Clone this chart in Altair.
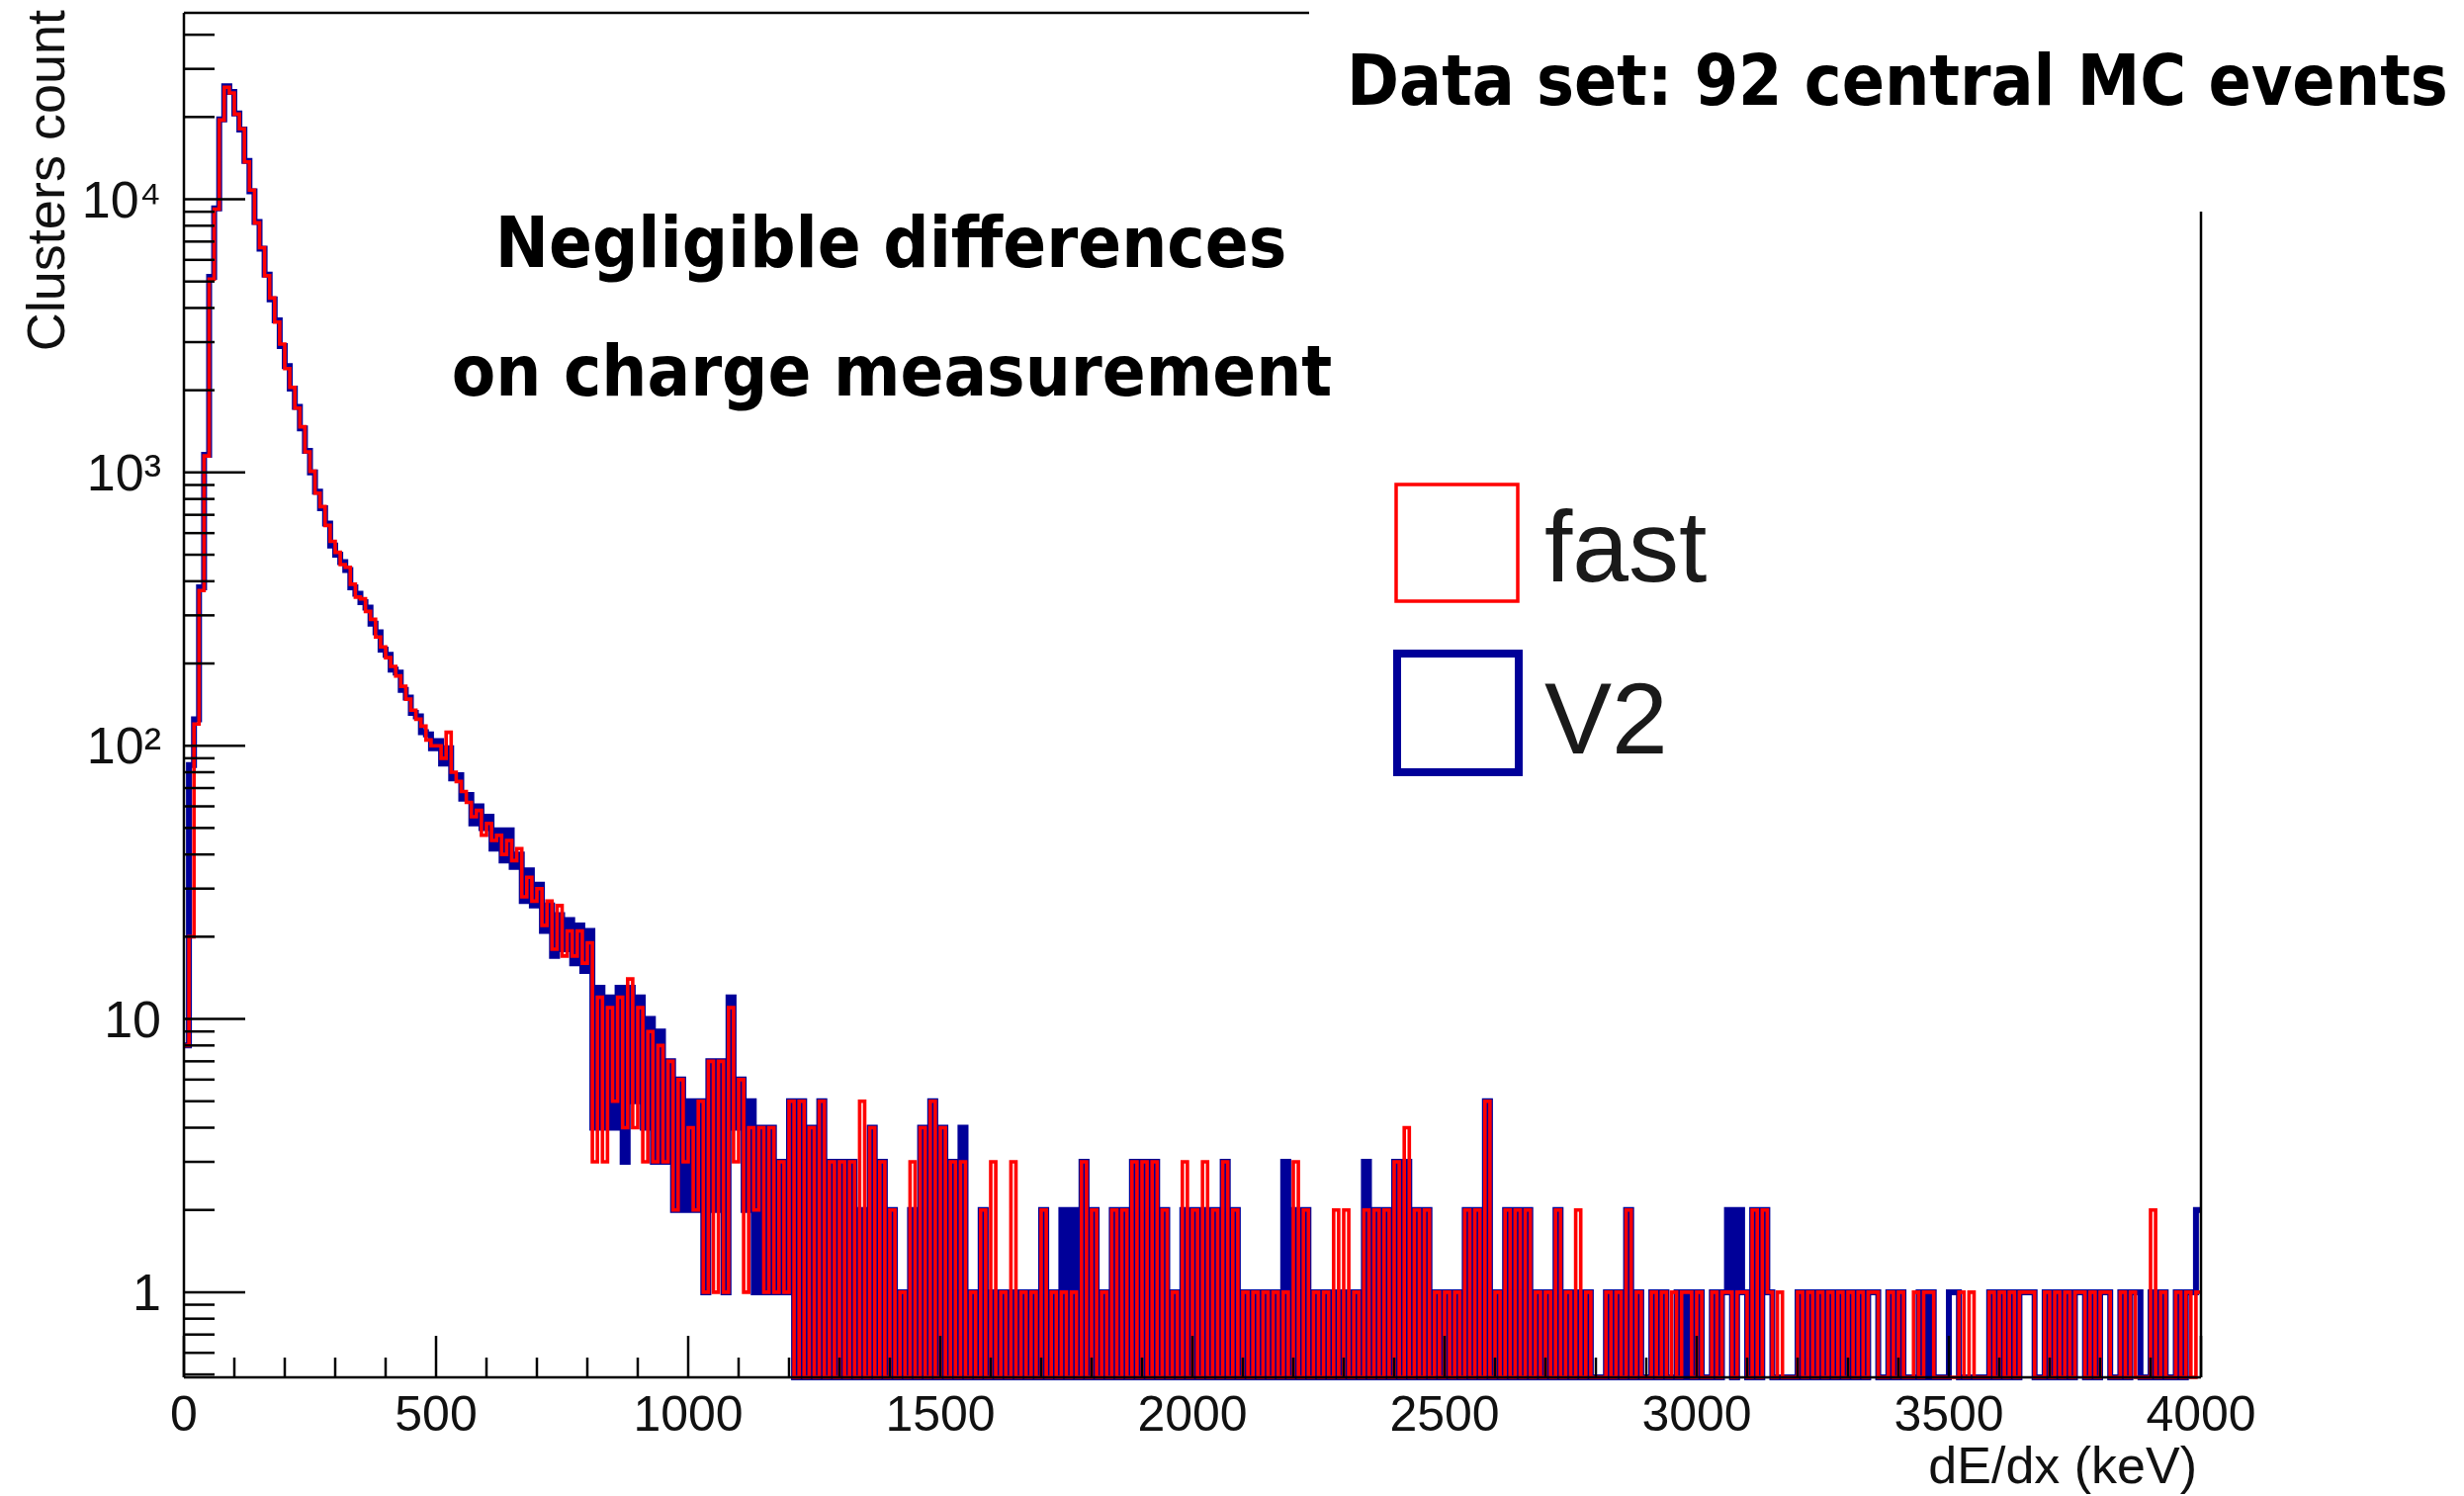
import altair as alt
import pandas as pd

# ---------------------------------------------------------------------------
# Plot geometry (pixels) and axis ranges
# ---------------------------------------------------------------------------
W, H = 2040, 1380
Y_MIN, Y_MAX = 0.488, 48100
X_MIN, X_MAX = 0, 4000
BIN_WIDTH = 10  # keV per bin

# ---------------------------------------------------------------------------
# Cluster counts per 10 keV bin (0 - 4000 keV), "V2" reconstruction
# ---------------------------------------------------------------------------
V2_PEAK = [8, 85, 125, 380, 1160, 5200, 9250, 19600, 25900, 24700,
           20600, 18000, 13800, 10700, 8250, 6600, 5300, 4300, 3600, 2900,
           2450, 2030, 1740, 1450, 1200, 1000, 850, 740, 650, 540,
           500, 470, 440, 380, 360, 335, 320, 280, 260, 225]
V2_BODY = [215, 190, 185, 160, 150, 132, 128, 112, 110, 98,
           104, 86, 98, 76, 78, 64, 66, 52, 60, 50,
           55, 42, 49, 38, 49, 36, 40, 27, 35, 26,
           31, 21, 26, 17, 24, 18, 23, 16, 22, 15,
           21, 4, 13, 4, 12, 4, 13, 3, 13, 5,
           12, 4, 10, 3, 9, 3, 7, 2, 6, 2,
           5, 2, 5, 1, 7, 2, 7, 1, 12, 4,
           6, 2, 5, 1, 4, 1, 4, 1, 3, 1]
V2_TAIL_1 = [5, 0, 5, 0, 4, 0, 5, 0, 3, 0,
             3, 0, 3, 0, 2, 0, 4, 0, 3, 0,
             2, 0, 1, 0, 2, 0, 4, 0, 5, 0,
             4, 0, 3, 0, 4, 0, 1, 0, 2, 0,
             1, 0, 1, 0, 1, 0, 1, 0, 1, 0,
             2, 0, 1, 0, 2, 0, 2, 0, 3, 0,
             2, 0, 1, 0, 2, 0, 2, 0, 3, 0,
             3, 0, 3, 0, 2, 0, 1, 0, 2, 0]
V2_TAIL_2 = [2, 0, 2, 0, 2, 0, 3, 0, 2, 0,
             1, 0, 1, 0, 1, 0, 1, 0, 3, 0,
             2, 0, 2, 0, 1, 0, 1, 0, 1, 0,
             1, 0, 1, 0, 3, 0, 2, 0, 2, 0,
             3, 0, 3, 0, 2, 0, 2, 0, 1, 0,
             1, 0, 1, 0, 2, 0, 2, 0, 5, 0,
             1, 0, 2, 0, 2, 0, 2, 0, 1, 0,
             1, 0, 2, 0, 1, 0, 1, 0, 1, 0]
V2_TAIL_3 = [0, 0, 1, 0, 1, 0, 2, 0, 1, 0,
             0, 1, 0, 1, 0, 0, 1, 0, 1, 0,
             1, 0, 0, 1, 0, 1, 2, 0, 2, 1,
             0, 2, 0, 2, 1, 0, 0, 0, 0, 0,
             1, 0, 1, 0, 1, 0, 1, 0, 1, 0,
             1, 0, 1, 0, 1, 1, 0, 0, 1, 0,
             1, 0, 0, 0, 1, 0, 1, 0, 0, 0,
             1, 1, 0, 0, 0, 0, 0, 0, 1, 0,
             1, 0, 1, 0, 1, 1, 1, 0, 0, 1,
             0, 1, 0, 1, 0, 1, 1, 0, 1, 0,
             1, 1, 0, 0, 1, 0, 1, 1, 0, 0,
             1, 0, 1, 0, 0, 1, 0, 1, 1, 2]

# ---------------------------------------------------------------------------
# Cluster counts per 10 keV bin, "fast" reconstruction
# ---------------------------------------------------------------------------
FAST_PEAK = [8, 20, 120, 370, 1150, 5100, 9200, 19500, 25700, 24500,
             20500, 18100, 13700, 10800, 8200, 6650, 5250, 4350, 3550, 2950,
             2400, 2050, 1720, 1470, 1190, 1010, 840, 750, 640, 560,
             510, 460, 450, 390, 350, 345, 310, 290, 250, 230]
FAST_BODY = [210, 195, 180, 165, 148, 135, 125, 118, 105, 100,
             100, 90, 112, 80, 74, 68, 62, 55, 58, 47,
             52, 45, 47, 40, 45, 38, 42, 28, 33, 27,
             30, 22, 27, 18, 26, 17, 21, 17, 21, 16,
             19, 3, 12, 3, 11, 5, 12, 4, 14, 4,
             11, 3, 9, 3, 8, 3, 7, 2, 6, 3,
             4, 2, 5, 1, 7, 1, 7, 1, 11, 3,
             6, 1, 4, 2, 4, 1, 4, 1, 3, 1]
FAST_TAIL_1 = [5, 0, 5, 0, 4, 0, 5, 0, 3, 0,
               3, 0, 3, 0, 5, 0, 4, 0, 3, 0,
               2, 0, 1, 0, 3, 0, 4, 0, 5, 0,
               4, 0, 3, 0, 3, 0, 1, 0, 2, 0,
               3, 0, 1, 0, 3, 0, 1, 0, 1, 0,
               2, 0, 1, 0, 1, 0, 1, 0, 3, 0,
               2, 0, 1, 0, 2, 0, 2, 0, 3, 0,
               3, 0, 3, 0, 2, 0, 1, 0, 3, 0]
FAST_TAIL_2 = [2, 0, 3, 0, 2, 0, 3, 0, 2, 0,
               1, 0, 1, 0, 1, 0, 1, 0, 1, 0,
               3, 0, 2, 0, 1, 0, 1, 0, 2, 0,
               2, 0, 1, 0, 2, 0, 2, 0, 2, 0,
               3, 0, 4, 0, 2, 0, 2, 0, 1, 0,
               1, 0, 1, 0, 2, 0, 2, 0, 5, 0,
               1, 0, 2, 0, 2, 0, 2, 0, 1, 0,
               1, 0, 2, 0, 1, 0, 2, 0, 1, 0]
FAST_TAIL_3 = [0, 0, 1, 0, 1, 0, 2, 0, 1, 0,
               0, 1, 0, 1, 0, 1, 0, 1, 1, 0,
               1, 0, 0, 1, 0, 1, 1, 0, 1, 1,
               0, 2, 0, 2, 1, 0, 1, 0, 0, 0,
               1, 0, 1, 0, 1, 0, 1, 0, 1, 0,
               1, 0, 1, 0, 1, 1, 0, 0, 1, 0,
               1, 0, 0, 1, 0, 1, 1, 0, 0, 0,
               0, 0, 1, 0, 1, 0, 0, 0, 1, 0,
               1, 0, 1, 0, 1, 1, 1, 0, 0, 1,
               0, 1, 0, 1, 0, 1, 1, 0, 1, 0,
               1, 1, 0, 0, 1, 0, 1, 0, 0, 0,
               2, 0, 1, 0, 0, 1, 0, 1, 0, 1]

# Axis tick values and labels
X_MAJOR = [0, 500, 1000, 1500, 2000, 2500, 3000, 3500, 4000]
X_MINOR = [v for v in range(100, 4000, 100) if v % 500]
Y_MAJOR = [1, 10, 100, 1000, 10000]
Y_LABELS = ["1", "10", "10\u00b2", "10\u00b3", "10\u2074"]
Y_MINOR = [0.5, 0.6, 0.7, 0.8, 0.9,
           2, 3, 4, 5, 6, 7, 8, 9,
           20, 30, 40, 50, 60, 70, 80, 90,
           200, 300, 400, 500, 600, 700, 800, 900,
           2000, 3000, 4000, 5000, 6000, 7000, 8000, 9000,
           20000, 30000, 40000]

# Text content
SERIES = ["fast", "V2"]
COLORS = {"fast": "#ff0000", "V2": "#000099"}
X_TITLE = "dE/dx (keV)"
Y_TITLE = "Clusters count"
HEADLINE = "Data set: 92 central MC events"
NOTE_LINES = ["Negligible differences", "on charge measurement"]

# ---------------------------------------------------------------------------
# Build the histogram outline table
# ---------------------------------------------------------------------------
v2_counts = V2_PEAK + V2_BODY + V2_TAIL_1 + V2_TAIL_2 + V2_TAIL_3
fast_counts = FAST_PEAK + FAST_BODY + FAST_TAIL_1 + FAST_TAIL_2 + FAST_TAIL_3

rows = []
for name, counts in (("V2", v2_counts), ("fast", fast_counts)):
    for i, c in enumerate(counts):
        rows.append({"series": name, "edge": i * BIN_WIDTH, "count": c})
    # closing edge of the last bin
    rows.append({"series": name, "edge": len(counts) * BIN_WIDTH, "count": counts[-1]})
hist = pd.DataFrame(rows)

x_scale = alt.Scale(domain=[X_MIN, X_MAX], nice=False, zero=False)
y_scale = alt.Scale(type="log", domain=[Y_MIN, Y_MAX], nice=False, clamp=True)

LABEL_FONT = "Liberation Sans"
BOLD_FONT = "DejaVu Sans Condensed, DejaVu Sans, sans-serif"
INK = "#111111"

base = alt.Chart(hist).transform_calculate(shown=f"max(datum.count, {Y_MIN})")


def outline(series, color, width):
    return base.transform_filter(f"datum.series == '{series}'").mark_line(
        interpolate="step-after", color=color, strokeWidth=width
    ).encode(
        x=alt.X("edge:Q", scale=x_scale, axis=None),
        y=alt.Y("shown:Q", scale=y_scale, axis=None),
    )


v2_line = outline("V2", COLORS["V2"], 6)
fast_line = outline("fast", COLORS["fast"], 3.6)


# Inward-pointing ticks drawn on top of the histograms
def x_ticks(values, length):
    return alt.Chart(pd.DataFrame({"v": values})).mark_rule(color="#000000", strokeWidth=2.5).encode(
        x=alt.X("v:Q", scale=x_scale, axis=None),
        y=alt.value(H), y2=alt.value(H - length),
    )


def y_ticks(values, length):
    return alt.Chart(pd.DataFrame({"v": values})).mark_rule(color="#000000", strokeWidth=2.5).encode(
        y=alt.Y("v:Q", scale=y_scale, axis=None),
        x=alt.value(0), x2=alt.value(length),
    )


x_labels = alt.Chart(pd.DataFrame({"v": X_MAJOR, "t": [str(v) for v in X_MAJOR]})).mark_text(
    align="center", baseline="alphabetic", fontSize=50, font=LABEL_FONT, color=INK
).encode(x=alt.X("v:Q", scale=x_scale, axis=None), y=alt.value(H + 54), text="t:N")

y_labels = alt.Chart(pd.DataFrame({"v": Y_MAJOR, "t": Y_LABELS})).mark_text(
    align="right", baseline="alphabetic", dy=18, fontSize=52, font=LABEL_FONT, color=INK
).encode(y=alt.Y("v:Q", scale=y_scale, axis=None), x=alt.value(-23), text="t:N")

one = pd.DataFrame({"k": [0]})


def frame_rule(x, x2, y, y2):
    return alt.Chart(one).mark_rule(color="#000000", strokeWidth=2.5).encode(
        x=alt.value(x), x2=alt.value(x2), y=alt.value(y), y2=alt.value(y2))


frame = [
    frame_rule(0, 0, 0, H),          # left
    frame_rule(0, W, H, H),          # bottom
    frame_rule(0, 1138, 0, 0),       # top (stops at the headline box)
    frame_rule(W, W, 201, H),        # right (starts below the headline box)
]


def label(text, x, y, size, align="left", bold=False, angle=0, font=LABEL_FONT, color=INK):
    mark_kwargs = dict(align=align, baseline="alphabetic", fontSize=size, font=font, color=color)
    if bold:
        mark_kwargs["fontWeight"] = "bold"
    if angle:
        mark_kwargs["angle"] = angle
    return alt.Chart(pd.DataFrame({"t": [text]})).mark_text(**mark_kwargs).encode(
        text="t:N", x=alt.value(x), y=alt.value(y))


texts = [
    label(HEADLINE, 1176, 93, 71, bold=True, font=BOLD_FONT, color="#000000"),
    label(NOTE_LINES[0], 715, 257, 72, align="center", bold=True, font=BOLD_FONT, color="#000000"),
    label(NOTE_LINES[1], 716, 387, 72, align="center", bold=True, font=BOLD_FONT, color="#000000"),
    label(X_TITLE, 2036, 1487, 52, align="right"),
    label(Y_TITLE, -121, -3, 54, align="right", angle=270),
]


# Legend: outlined boxes with labels
def legend_box(x, x2, y, y2, color, width):
    return alt.Chart(one).mark_rect(fill=None, filled=False, stroke=color, strokeWidth=width).encode(
        x=alt.value(x), x2=alt.value(x2), y=alt.value(y), y2=alt.value(y2))


legend = [
    legend_box(1226, 1349, 477, 595, COLORS["fast"], 3.5),
    legend_box(1227, 1350, 648, 768, COLORS["V2"], 8),
    label(SERIES[0], 1376, 575, 102, color="#1a1a1a"),
    label(SERIES[1], 1376, 749, 102, color="#1a1a1a"),
]

chart = alt.layer(
    v2_line, fast_line,
    y_ticks(Y_MINOR, 31), y_ticks(Y_MAJOR, 62),
    x_ticks(X_MINOR, 20), x_ticks(X_MAJOR, 42),
    x_labels, y_labels,
    *frame, *texts, *legend,
).properties(
    width=W, height=H,
    autosize=alt.AutoSizeParams(type="none"),
    padding={"left": 186, "top": 13, "right": 266, "bottom": 120},
    background="#ffffff",
).configure_view(stroke=None)

chart.save("out.html", embed_options={"renderer": "svg", "actions": False})
